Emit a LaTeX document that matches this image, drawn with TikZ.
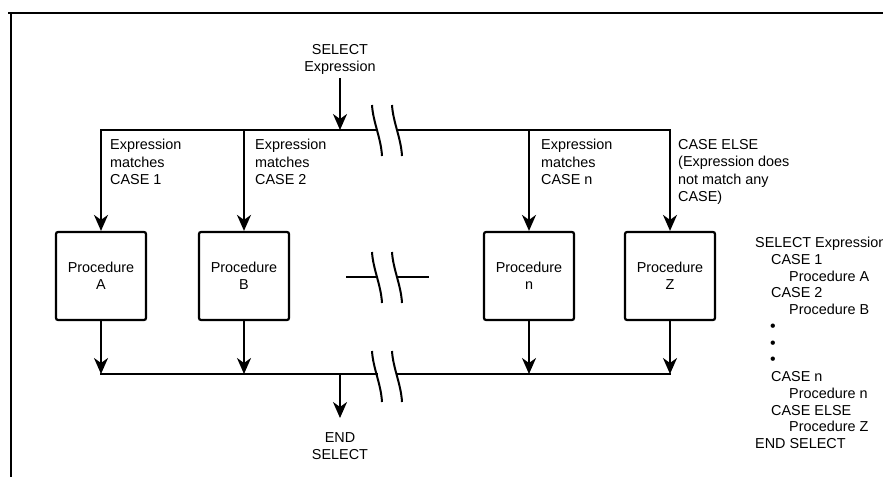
\documentclass[tikz,border=0pt]{standalone}
\usepackage{fontspec}
\setmainfont{Liberation Sans}
\usetikzlibrary{arrows.meta,positioning}
\newcommand{\casefont}{\fontsize{14.4}{17.4}\selectfont}
\newcommand{\listfont}{\fontsize{14.4}{16.75}\selectfont}
\newcommand{\listdot}{{\fontsize{16}{16.75}\selectfont\textbullet}}
\tikzset{
  proc box/.style={
    rectangle, rounded corners=2pt, draw, line width=2.2pt,
    minimum width=90pt, minimum height=88pt,
    align=center, inner sep=0pt, font=\casefont
  },
  case label/.style={anchor=north west, align=left, inner sep=0pt, font=\casefont},
  case text/.style={align=center, inner sep=0pt, font=\casefont},
  flow arrow/.style={-{Stealth[length=16pt,width=14pt,inset=5pt]}, line width=2pt},
  bus line/.style={line width=2pt, line cap=rect},
  gap mark/.style={line width=2pt},
  frame line/.style={line width=2pt}
}
% two slanted cut marks centred on (#1,#2)
\newcommand{\gapmarks}[2]{%
  \draw[gap mark] ({#1-15},{#2-25}) .. controls ({#1-14},{#2-8}) and ({#1-6},{#2+8}) .. ({#1-5},{#2+26});
  \draw[gap mark] ({#1+5},{#2-25}) .. controls ({#1+6},{#2-8}) and ({#1+14},{#2+8}) .. ({#1+15},{#2+26});
}

\begin{document}
\begin{tikzpicture}[x=1pt, y=-1pt]
  \useasboundingbox (0,0) rectangle (883,477);
  \draw[frame line] (8,13) -- (883,13);
  \draw[frame line] (11,13) -- (11,477);

  % procedures
  \node[proc box] (procA) at (101,276) {Procedure\\A};
  \node[proc box] (procB) at (244,276) {Procedure\\B};
  \node[proc box] (procN) at (529,276) {Procedure\\n};
  \node[proc box] (procZ) at (670,276) {Procedure\\Z};

  % top bus
  \coordinate (topA) at (101,130);
  \coordinate (topB) at (244,130);
  \coordinate (topsel) at (340,130);
  \coordinate (topcutL) at (377,130);
  \coordinate (topcutR) at (397,130);
  \coordinate (topN) at (529,130);
  \coordinate (topZ) at (670,130);

  % bottom bus
  \coordinate (botA) at (101,374);
  \coordinate (botB) at (244,374);
  \coordinate (botsel) at (340,374);
  \coordinate (botcutL) at (377,374);
  \coordinate (botcutR) at (397,374);
  \coordinate (botN) at (529,374);
  \coordinate (botZ) at (670,374);

  % middle cut
  \coordinate (midL) at (347,277);
  \coordinate (midcutL) at (377,277);
  \coordinate (midcutR) at (397,277);
  \coordinate (midR) at (428,277);

  \node[case text, inner sep=3pt, above=52pt of topsel] (selexpr) {SELECT\\Expression};
  \node[case text, anchor=north, below=58pt of botsel] (endsel) {END\\SELECT};

  \node[case label, below right=9pt and 9pt of topA] (caseone) {Expression\\matches\\CASE 1};
  \node[case label, below right=9pt and 11pt of topB] (casetwo) {Expression\\matches\\CASE 2};
  \node[case label, below right=9pt and 12pt of topN] (casen) {Expression\\matches\\CASE n};
  \node[case label, below right=9pt and 8pt of topZ] (caseelse) {CASE ELSE\\(Expression does\\not match any\\CASE)};

  \node[case label, font=\listfont] (listing) at (755,237) {%
    SELECT Expression\\
    \hspace*{16pt}CASE 1\\
    \hspace*{34pt}Procedure A\\
    \hspace*{16pt}CASE 2\\
    \hspace*{34pt}Procedure B\\
    \hspace*{15pt}\listdot\\
    \hspace*{15pt}\listdot\\
    \hspace*{15pt}\listdot\\
    \hspace*{16pt}CASE n\\
    \hspace*{34pt}Procedure n\\
    \hspace*{16pt}CASE ELSE\\
    \hspace*{34pt}Procedure Z\\
    END SELECT};

  \draw[bus line] (topA) -- (topcutL);
  \draw[bus line] (topcutR) -- (topZ);
  \draw[bus line] (botA) -- (botcutL);
  \draw[bus line] (botcutR) -- (botZ);
  \draw[bus line] (midL) -- (midcutL);
  \draw[bus line] (midcutR) -- (midR);
  \gapmarks{387}{130}
  \gapmarks{387}{277}
  \gapmarks{387}{376}

  \draw[flow arrow] (selexpr) -- (topsel);
  \draw[flow arrow] (topA) -- (procA);
  \draw[flow arrow] (topB) -- (procB);
  \draw[flow arrow] (topN) -- (procN);
  \draw[flow arrow] (topZ) -- (procZ);
  \draw[flow arrow] (procA) -- (botA);
  \draw[flow arrow] (procB) -- (botB);
  \draw[flow arrow] (procN) -- (botN);
  \draw[flow arrow] (procZ) -- (botZ);
  \draw[flow arrow, shorten >=14pt] (botsel) -- (endsel.north);
\end{tikzpicture}
\end{document}
